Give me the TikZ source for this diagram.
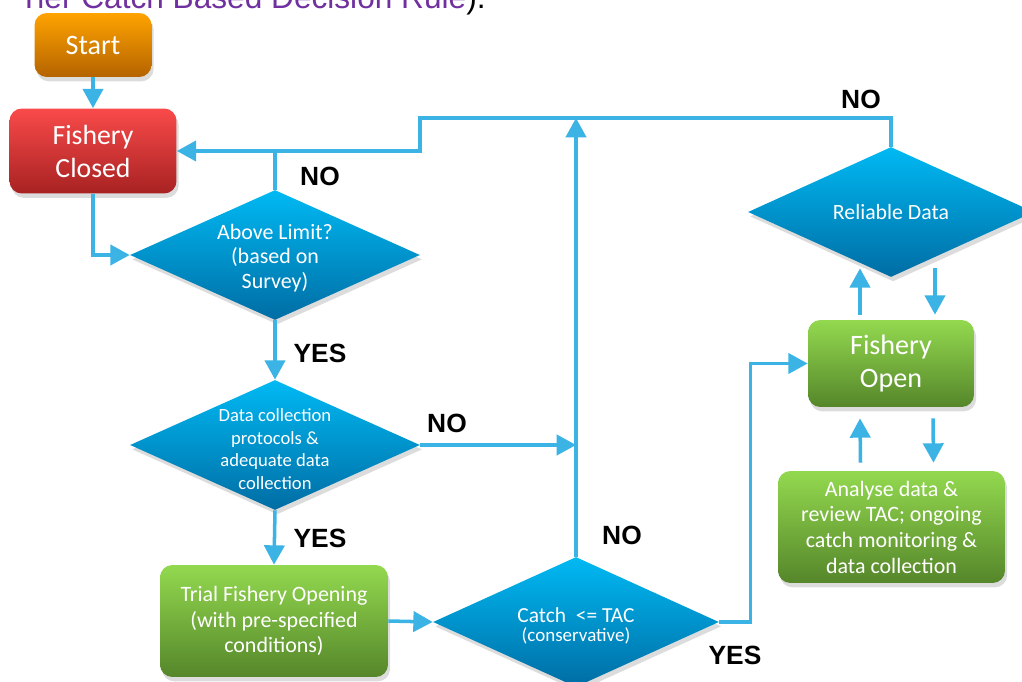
\documentclass[tikz,border=0pt]{standalone}
\usepackage{fontspec}
\setmainfont{Carlito}
\newfontfamily\armfont{Liberation Sans}
\usepackage{tikz}
\usetikzlibrary{arrows.meta,shapes.geometric,shadows}
\definecolor{wire}{HTML}{3BB3E4}
\definecolor{decT}{HTML}{00B9F3}
\definecolor{decB}{HTML}{006DA4}
\definecolor{grnT}{HTML}{93D94F}
\definecolor{grnB}{HTML}{55862A}
\definecolor{redT}{HTML}{F94A4A}
\definecolor{redB}{HTML}{A82222}
\definecolor{orgT}{HTML}{FFA300}
\definecolor{orgB}{HTML}{B46300}
\definecolor{title}{HTML}{7030A0}
\tikzset{
  link/.style={draw=wire, line width=2pt},
  flow/.style={link, -{Triangle[width=11.5pt,length=11pt]}},
  shad/.style={drop shadow={shadow xshift=1.2pt, shadow yshift=-2.5pt, opacity=0.28}},
  box/.style={rectangle, rounded corners=7pt, shad, inner sep=0pt, text=white, align=center},
  orng/.style={box, top color=orgT, bottom color=orgB},
  redd/.style={box, top color=redT, bottom color=redB},
  grn/.style={box, top color=grnT, bottom color=grnB},
  dec/.style={diamond, shad, inner sep=0pt, top color=decT, bottom color=decB,
    minimum width=5.8cm, minimum height=2.6cm},
  dtxt/.style={text=white, align=center, inner sep=0pt},
  ans/.style={font=\armfont\bfseries\fontsize{15}{18}\selectfont, inner sep=0pt},
}

\begin{document}
\begin{tikzpicture}[x=0.02cm, y=-0.02cm]
  \useasboundingbox (0,0) rectangle (1022,682);
  \clip (0,0) rectangle (1022,682);
  \node[anchor=base east, inner sep=0pt, text=title, font=\armfont\fontsize{18}{21}\selectfont]
    (ttl) at (486,9) {Tier Catch Based Decision Rule\textcolor{black}{).}};
  % left column
  \node[orng, minimum width=2.34cm, minimum height=1.28cm, font=\fontsize{16}{19}\selectfont]
    (start) at (93,45) {Start};
  \node[redd, minimum width=3.34cm, minimum height=1.7cm, font=\fontsize{15.8}{18.8}\selectfont]
    (closed) at (93,151) {Fishery\\Closed};
  \node[dec] (lim) at (275,255) {};
  \node[dtxt, font=\fontsize{12.5}{14}\selectfont] (limT) at (275,258) {Above Limit?\\(based on\\Survey)};
  \node[dec] (dc) at (275,445) {};
  \node[dtxt, font=\fontsize{10.6}{12.8}\selectfont] (dcT) at (275,449) {Data collection\\protocols \&\\adequate data\\collection};
  \node[grn, minimum width=4.56cm, minimum height=2.24cm, font=\fontsize{12.5}{14.7}\selectfont]
    (trial) at (274,621) {Trial Fishery Opening\\(with pre-specified\\conditions)};
  % middle and right
  \node[dec, minimum width=5.72cm] (catch) at (576,622) {};
  \node[dtxt] (catchT) at (576,626) {\fontsize{12.2}{12.8}\selectfont Catch\ \ <= TAC\\[-1pt]\fontsize{10.8}{12.8}\selectfont(conservative)};
  \node[dec, minimum width=5.72cm] (rel) at (891,212) {};
  \node[dtxt, font=\fontsize{12.4}{13}\selectfont] (relT) at (891,212) {Reliable Data};
  \node[grn, minimum width=3.32cm, minimum height=1.74cm, font=\fontsize{16}{18.5}\selectfont]
    (open) at (891,363.5) {Fishery\\Open};
  \node[grn, minimum width=4.54cm, minimum height=2.24cm, font=\fontsize{12.5}{14.6}\selectfont]
    (ana) at (891.5,527) {Analyse data \&\\review TAC; ongoing\\catch monitoring \&\\data collection};
  \coordinate (jn) at (lim.north |- closed.east);
  \coordinate (rtop) at (420,118);
  % connectors
  \draw[flow] (start) -- (closed);
  \draw[flow] (closed.south) |- (lim.west);
  \draw[flow] (lim.north) |- (closed.east);
  \draw[link] (rel.north) |- (rtop) |- (jn);
  \draw[flow] (lim.south) -- (dc.north);
  \draw[flow] (dc.south) -- (trial.north);
  \draw[flow] (dc.east) -- (dc.east -| catch.north);
  \draw[flow] (catch.north) -- (catch.north |- rtop);
  \draw[flow] (trial.east) -- (catch.west);
  \draw[flow] (catch.east) -- ++(31,0) |- (open.west);
  \draw[flow] ([shift={(-31,-5)}]open.north) -- ([shift={(-31,-9)}]rel.south);
  \draw[flow] ([shift={(44,-9)}]rel.south) -- ([shift={(44,-5)}]open.north);
  \draw[flow] ([shift={(-31,-8)}]ana.north) -- ([shift={(-31,11)}]open.south);
  \draw[flow] ([shift={(42,11)}]open.south) -- ([shift={(42,-8)}]ana.north);
  % answers
  \node[ans] (no1) at (861,99) {NO};
  \node[ans] (no2) at (320,176) {NO};
  \node[ans] (yes1) at (320,353) {YES};
  \node[ans] (no3) at (447,423) {NO};
  \node[ans] (yes2) at (320,538) {YES};
  \node[ans] (no4) at (622,535) {NO};
  \node[ans] (yes3) at (735,655) {YES};
\end{tikzpicture}
\end{document}
